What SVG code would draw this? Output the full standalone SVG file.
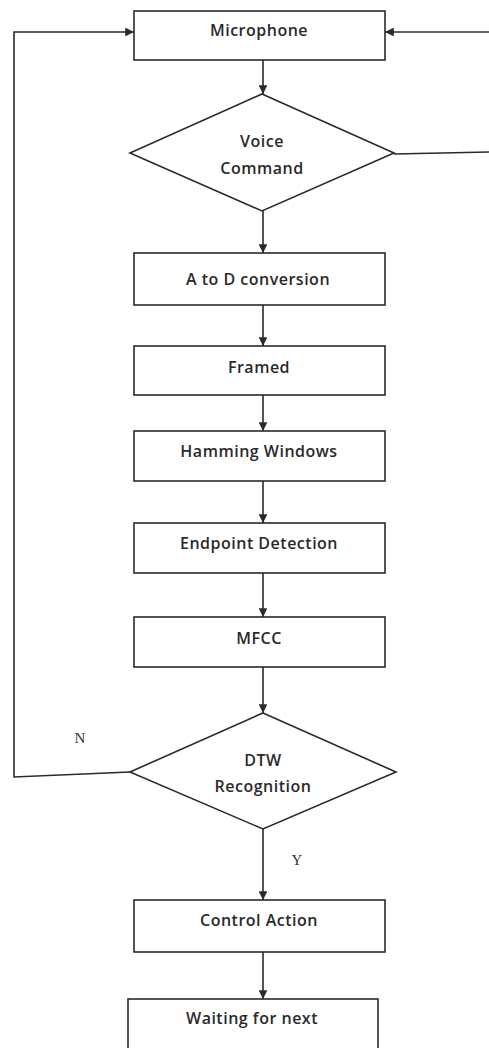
<svg xmlns="http://www.w3.org/2000/svg" width="489" height="1048" viewBox="0 0 489 1048">
<style>
.box{fill:#fff;stroke:#2a2a2a;stroke-width:1.6}
.lbl{font-family:"Open Sans","Liberation Sans",sans-serif;font-weight:600;font-size:16px;letter-spacing:0.5px;fill:#2a2a2a;text-anchor:middle}
.yn{font-family:"Liberation Serif",serif;font-size:15px;fill:#333;text-anchor:middle}
.ln{fill:none;stroke:#2a2a2a;stroke-width:1.6}
</style>
<defs>
<marker id="ah" viewBox="0 0 10 10" refX="10" refY="5" markerWidth="5.5" markerHeight="5.5" orient="auto" markerUnits="strokeWidth">
<path d="M0,0 L10,5 L0,10 z" fill="#2a2a2a"/>
</marker>
</defs>
<rect width="489" height="1048" fill="#fff"/>
<g id="connectors">
<line class="ln" x1="263" y1="60" x2="263" y2="94" marker-end="url(#ah)"/>
<line class="ln" x1="263" y1="211" x2="263" y2="253" marker-end="url(#ah)"/>
<line class="ln" x1="263" y1="305" x2="263" y2="346" marker-end="url(#ah)"/>
<line class="ln" x1="263" y1="395" x2="263" y2="431" marker-end="url(#ah)"/>
<line class="ln" x1="263" y1="481" x2="263" y2="523" marker-end="url(#ah)"/>
<line class="ln" x1="263" y1="573" x2="263" y2="617" marker-end="url(#ah)"/>
<line class="ln" x1="263" y1="667" x2="263" y2="713" marker-end="url(#ah)"/>
<line class="ln" x1="263" y1="829" x2="263" y2="900" marker-end="url(#ah)"/>
<line class="ln" x1="263" y1="952" x2="263" y2="999" marker-end="url(#ah)"/>
<polyline class="ln" points="130,772 14,777 14,32 134,32" marker-end="url(#ah)"/>
<polyline class="ln" points="394,154 489,152"/>
<line class="ln" x1="489" y1="32" x2="385" y2="32" marker-end="url(#ah)"/>
<text class="yn" x="80" y="743">N</text>
<text class="yn" x="297" y="865">Y</text>
</g>
<g id="microphone"><rect class="box" x="134" y="11" width="251" height="49"/><text class="lbl" x="259" y="36">Microphone</text></g>
<g id="voice-command"><polygon class="box" points="262,94 394,153 262,211 130,153"/><text class="lbl" x="262" y="147">Voice</text><text class="lbl" x="262" y="174">Command</text></g>
<g id="a-to-d"><rect class="box" x="134" y="253" width="251" height="52"/><text class="lbl" x="258" y="285">A to D conversion</text></g>
<g id="framed"><rect class="box" x="134" y="346" width="251" height="49"/><text class="lbl" x="259" y="373">Framed</text></g>
<g id="hamming"><rect class="box" x="134" y="431" width="251" height="50"/><text class="lbl" x="259" y="457">Hamming Windows</text></g>
<g id="endpoint"><rect class="box" x="134" y="523" width="251" height="50"/><text class="lbl" x="259" y="549">Endpoint  Detection</text></g>
<g id="mfcc"><rect class="box" x="134" y="617" width="251" height="50"/><text class="lbl" x="259" y="644">MFCC</text></g>
<g id="dtw"><polygon class="box" points="263,713 396,772 263,829 130,772"/><text class="lbl" x="263" y="766">DTW</text><text class="lbl" x="263" y="792">Recognition</text></g>
<g id="control-action"><rect class="box" x="134" y="900" width="251" height="52"/><text class="lbl" x="259" y="926">Control Action</text></g>
<g id="waiting"><rect class="box" x="128" y="999" width="250" height="60"/><text class="lbl" x="252" y="1024">Waiting for next</text></g>
</svg>
